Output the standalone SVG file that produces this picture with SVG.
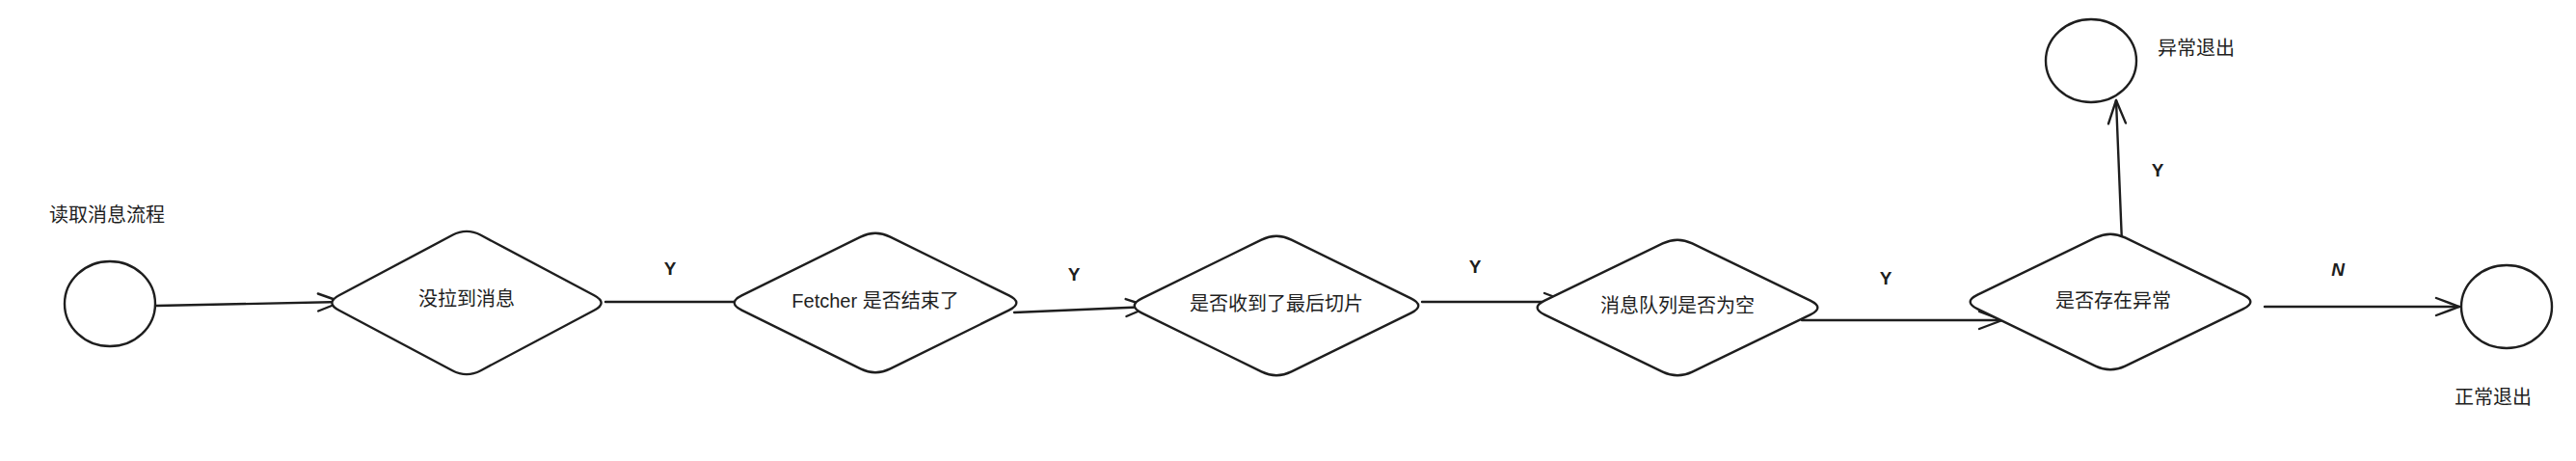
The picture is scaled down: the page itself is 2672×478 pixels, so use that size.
<svg xmlns="http://www.w3.org/2000/svg" width="2672" height="478" viewBox="0 0 2672 478">
<style>
.shape{fill:#ffffff;stroke:#1e1e1e;stroke-width:2.4;stroke-linejoin:round}
.conn{fill:none;stroke:#1e1e1e;stroke-width:2.4;stroke-linecap:round}
.t{font-family:"Liberation Sans","Noto Sans CJK SC",sans-serif;font-size:20px;fill:#1e1e1e;text-anchor:middle;dominant-baseline:central}
.lbl{font-family:"Liberation Sans","Noto Sans CJK SC",sans-serif;font-size:19px;font-weight:bold;fill:#1e1e1e;text-anchor:middle;dominant-baseline:central}
.side{font-family:"Liberation Sans","Noto Sans CJK SC",sans-serif;font-size:20px;fill:#1e1e1e;text-anchor:start;dominant-baseline:central}
</style>
<defs>
<path id="dia" d="M -0.1,-0.9 Q 0,-1 0.1,-0.9 L 0.9,-0.1 Q 1,0 0.9,0.1 L 0.1,0.9 Q 0,1 -0.1,0.9 L -0.9,0.1 Q -1,0 -0.9,-0.1 Z" vector-effect="non-scaling-stroke"/>
<marker id="arr" markerUnits="userSpaceOnUse" markerWidth="40" markerHeight="40" refX="0" refY="0" viewBox="-30 -20 40 40" orient="auto" overflow="visible">
<path d="M -24,-9 L 0,0 L -24,9" fill="none" stroke="#1e1e1e" stroke-width="2.4" stroke-linecap="round" stroke-linejoin="round"/>
</marker>
</defs>
<rect width="2672" height="478" fill="#ffffff"/>

<text class="side" x="51" y="223">读取消息流程</text>

<g id="connectors">
<path class="conn" d="M 162,317 L 354,313" marker-end="url(#arr)"/>
<path class="conn" d="M 628,313 L 800,313" marker-end="url(#arr)"/>
<path class="conn" d="M 1052,324 L 1192,318" marker-end="url(#arr)"/>
<path class="conn" d="M 1475,313 L 1626,313" marker-end="url(#arr)"/>
<path class="conn" d="M 1869,332 L 2077,332" marker-end="url(#arr)"/>
<path class="conn" d="M 2201,252 L 2195,104" marker-end="url(#arr)"/>
<path class="conn" d="M 2349,318 L 2551,318" marker-end="url(#arr)"/>
<text class="lbl" x="695" y="278">Y</text>
<text class="lbl" x="1114" y="284">Y</text>
<text class="lbl" x="1530" y="276">Y</text>
<text class="lbl" x="1956" y="288">Y</text>
<text class="lbl" x="2238" y="176">Y</text>
<text class="lbl" x="2425" y="279" font-style="italic">N</text>
</g>

<g id="start">
<ellipse class="shape" cx="114" cy="315" rx="47" ry="44"/>
</g>
<g id="d1">
<use href="#dia" class="shape" transform="translate(484,314) scale(147,78)"/>
<text class="t" x="484" y="310">没拉到消息</text>
</g>
<g id="d2">
<use href="#dia" class="shape" transform="translate(908,314) scale(154,76)"/>
<text class="t" x="908" y="312">Fetcher 是否结束了</text>
</g>
<g id="d3">
<use href="#dia" class="shape" transform="translate(1324,317) scale(155,76)"/>
<text class="t" x="1324" y="315">是否收到了最后切片</text>
</g>
<g id="d4">
<use href="#dia" class="shape" transform="translate(1740,319) scale(153,74)"/>
<text class="t" x="1740" y="317">消息队列是否为空</text>
</g>
<g id="d5">
<use href="#dia" class="shape" transform="translate(2189,313) scale(153,74)"/>
<text class="t" x="2192" y="312">是否存在异常</text>
</g>
<g id="abnormal">
<ellipse class="shape" cx="2169" cy="63" rx="47" ry="43"/>
<text class="side" x="2238" y="50">异常退出</text>
</g>
<g id="normal">
<ellipse class="shape" cx="2600" cy="318" rx="47" ry="43"/>
<text class="side" x="2546" y="412">正常退出</text>
</g>
</svg>
